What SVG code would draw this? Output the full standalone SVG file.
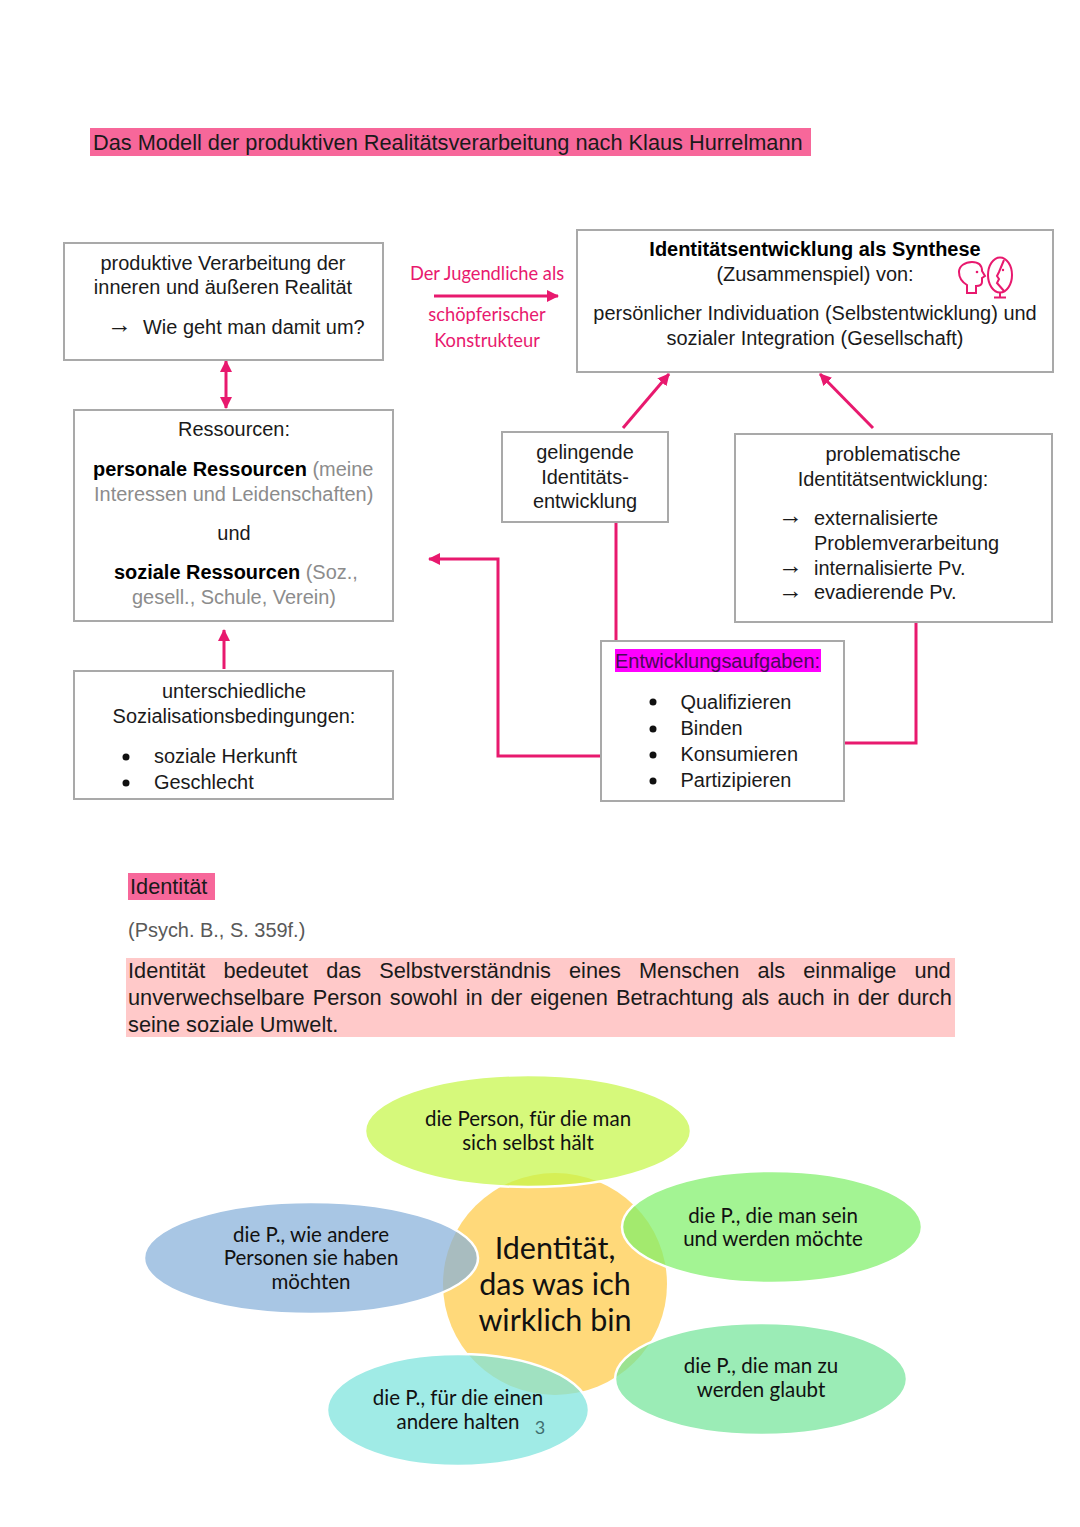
<svg xmlns="http://www.w3.org/2000/svg" width="1080" height="1527" viewBox="0 0 1080 1527">
<style>
text{font-family:"Liberation Sans",Arial,sans-serif;font-size:19.95px;fill:#1a1a1a}
.m{text-anchor:middle}
.b{font-weight:bold;fill:#000}
.g{fill:#8c8c8c}
.box{fill:#fff;stroke:#a9a9a9;stroke-width:2}
.c{fill:none;stroke:#e8196e;stroke-width:3}
.o{font-family:Lato,"Open Sans",sans-serif;fill:#111;font-size:20.5px}
.l{font-size:30.5px}
.p{font-family:Lato,"Open Sans",sans-serif;fill:#e8196e;font-size:18.3px;text-anchor:middle}
.e{stroke:#fff;stroke-width:2.5;fill-opacity:.72}
.ic{fill:none;stroke:#e8196e;stroke-width:2}
.h{font-size:21.75px}
.ar{font-size:25px}
</style>
<defs>
<marker id="a" markerUnits="userSpaceOnUse" markerWidth="12" markerHeight="12" refX="11" refY="6" orient="auto-start-reverse"><path d="M0 0L12 6L0 12Z" fill="#e8196e"/></marker>
</defs>
<rect width="1080" height="1527" fill="#fff"/>
<g id="title"><rect x="90" y="128" width="721" height="28" fill="#f7679a"/><text class="h" x="93" y="150">Das Modell der produktiven Realitätsverarbeitung nach Klaus Hurrelmann</text></g>
<g id="connectors">
<path class="c" d="M434 296H558" marker-end="url(#a)"/>
<path class="c" d="M226 361V408" marker-start="url(#a)" marker-end="url(#a)"/>
<path class="c" d="M224 669V630" marker-end="url(#a)"/>
<path class="c" d="M623 428L669 374" marker-end="url(#a)"/>
<path class="c" d="M873 428L820 374" marker-end="url(#a)"/>
<path class="c" d="M616 523V642"/>
<path class="c" d="M601 756H498V559H429" marker-end="url(#a)"/>
<path class="c" d="M844 743H916V622"/>
</g>
<g id="n-verarbeitung"><rect class="box" x="64" y="243" width="319" height="117"/>
<text class="m" x="223" y="269.500">produktive Verarbeitung der</text><text class="m" x="223" y="294">inneren und äußeren Realität</text>
<text class="ar" x="107" y="332.500">→</text><text x="143" y="333.500">Wie geht man damit um?</text></g>
<g id="n-label"><text class="p" x="487" y="280">Der Jugendliche als</text><text class="p" x="487" y="321">schöpferischer</text><text class="p" x="487" y="347">Konstrukteur</text></g>
<g id="n-synthese"><rect class="box" x="577" y="230" width="476" height="142"/>
<text class="m b" x="815" y="256">Identitätsentwicklung als Synthese</text>
<text class="m" x="815" y="281">(Zusammenspiel) von:</text>
<text class="m" x="815" y="320">persönlicher Individuation (Selbstentwicklung) und</text>
<text class="m" x="815" y="345">sozialer Integration (Gesellschaft)</text>
<path class="ic" d="M967 293V285C962 282 959 277 959 272C959 266 965 262 972 262C978 262 982 265 982 271L985 276L982 278V282C982 285 980 286 976 286V293H967Z"/>
<circle cx="977" cy="272" r="1.300" fill="#e8196e"/>
<ellipse class="ic" cx="1000" cy="275" rx="12" ry="17.500"/>
<path class="ic" d="M1004 260L999 272L997 276L999 279L997 283L1004 291M1000 292.500V297M994 297.500H1006"/>
<circle cx="1003" cy="270" r="1.200" fill="#e8196e"/></g>
<g id="n-ressourcen"><rect class="box" x="74" y="410" width="319" height="211"/>
<text class="m" x="234" y="436">Ressourcen:</text>
<text x="93" y="475.500"><tspan class="b">personale Ressourcen</tspan><tspan class="g"> (meine</tspan></text>
<text class="g" x="94" y="500.500">Interessen und Leidenschaften)</text>
<text class="m" x="234" y="540">und</text>
<text x="114" y="579"><tspan class="b">soziale Ressourcen</tspan><tspan class="g"> (Soz.,</tspan></text>
<text class="m g" x="234" y="604">gesell., Schule, Verein)</text></g>
<g id="n-sozialisation"><rect class="box" x="74" y="671" width="319" height="128"/>
<text class="m" x="234" y="697.500">unterschiedliche</text><text class="m" x="234" y="722.500">Sozialisationsbedingungen:</text>
<circle cx="126" cy="757" r="3.500" fill="#111"/><text x="154" y="763">soziale Herkunft</text>
<circle cx="126" cy="783" r="3.500" fill="#111"/><text x="154" y="789">Geschlecht</text></g>
<g id="n-gelingend"><rect class="box" x="502" y="432" width="166" height="90"/>
<text class="m" x="585" y="458.500">gelingende</text><text class="m" x="585" y="483.500">Identitäts-</text><text class="m" x="585" y="507.500">entwicklung</text></g>
<g id="n-problem"><rect class="box" x="735" y="434" width="317" height="188"/>
<text class="m" x="893" y="460.500">problematische</text><text class="m" x="893" y="485.500">Identitätsentwicklung:</text>
<text class="ar" x="778" y="523.500">→</text><text x="814" y="524.500">externalisierte</text><text x="814" y="549.500">Problemverarbeitung</text>
<text class="ar" x="778" y="573.500">→</text><text x="814" y="574.500">internalisierte Pv.</text>
<text class="ar" x="778" y="598.500">→</text><text x="814" y="598.500">evadierende Pv.</text></g>
<g id="n-aufgaben"><rect class="box" x="601" y="641" width="243" height="160"/>
<rect x="615" y="649" width="206" height="23" fill="#ff00ff"/>
<text x="615" y="668" style="fill:#4a0a55">Entwicklungsaufgaben:</text>
<circle cx="653" cy="702" r="3.500" fill="#111"/><text x="680.500" y="709">Qualifizieren</text>
<circle cx="653" cy="729" r="3.500" fill="#111"/><text x="680.500" y="735">Binden</text>
<circle cx="653" cy="755" r="3.500" fill="#111"/><text x="680.500" y="761">Konsumieren</text>
<circle cx="653" cy="781" r="3.500" fill="#111"/><text x="680.500" y="787">Partizipieren</text></g>
<g id="identitaet"><rect x="128" y="873" width="87" height="27" fill="#f7679a"/><text class="h" x="130" y="894">Identität</text>
<text x="128" y="937" style="fill:#595959">(Psych. B., S. 359f.)</text>
<rect x="126" y="958" width="829" height="79" fill="#ffc9c9"/>
<text class="h" x="128" y="978" style="word-spacing:12px">Identität bedeutet das Selbstverständnis eines Menschen als einmalige und</text>
<text class="h" x="128" y="1005" style="word-spacing:2.13px">unverwechselbare Person sowohl in der eigenen Betrachtung als auch in der durch</text>
<text class="h" x="128" y="1032">seine soziale Umwelt.</text></g>
<g id="n-center"><ellipse cx="555" cy="1284" rx="112" ry="111" fill="#ffd97a"/></g>
<g id="n-top"><ellipse class="e" cx="528" cy="1131" rx="163" ry="56" fill="#c6f648"/></g>
<g id="n-left"><ellipse class="e" cx="311" cy="1258" rx="167" ry="56" fill="#86b0da"/></g>
<g id="n-right"><ellipse class="e" cx="772" cy="1227" rx="150" ry="56" fill="#7ff06a"/></g>
<g id="n-lr"><ellipse class="e" cx="761" cy="1379" rx="146" ry="56" fill="#74e59a"/></g>
<g id="n-ll"><ellipse class="e" cx="458" cy="1410" rx="131" ry="56" fill="#7ce3dc"/></g>
<g id="labels">
<text class="m o" x="528" y="1126">die Person, für die man</text><text class="m o" x="528" y="1150">sich selbst hält</text>
<text class="m o" x="311" y="1242">die P., wie andere</text><text class="m o" x="311" y="1265">Personen sie haben</text><text class="m o" x="311" y="1289">möchten</text>
<text class="m o" x="773" y="1223">die P., die man sein</text><text class="m o" x="773" y="1246">und werden möchte</text>
<text class="m o" x="761" y="1373">die P., die man zu</text><text class="m o" x="761" y="1397">werden glaubt</text>
<text class="m o" x="458" y="1405">die P., für die einen</text><text class="m o" x="458" y="1429">andere halten</text>
<text class="m o l" x="555" y="1259">Identität,</text><text class="m o l" x="555" y="1295">das was ich</text><text class="m o l" x="555" y="1331">wirklich bin</text>
<text class="m o" x="540" y="1434" style="fill:#3f6f70;font-size:18px">3</text>
</g>
</svg>
